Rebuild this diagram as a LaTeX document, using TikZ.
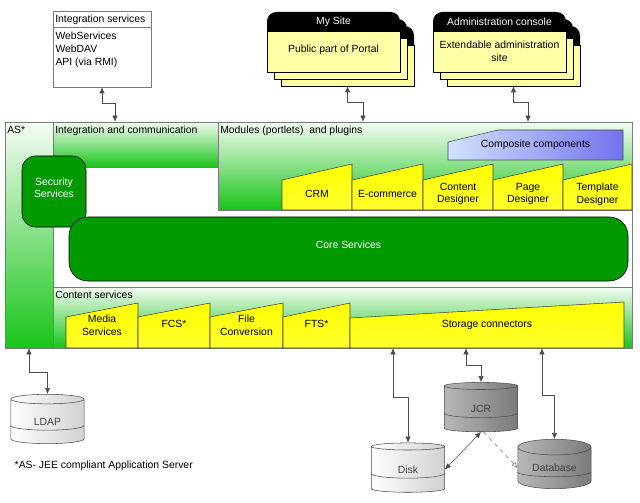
\documentclass[tikz,border=0pt]{standalone}
\usepackage{fontspec}
\setmainfont{Liberation Sans}
\usetikzlibrary{arrows.meta,positioning,shapes.geometric,fit}
\definecolor{Leaf}{HTML}{18C418}
\definecolor{Mint}{HTML}{F4FCF4}
\definecolor{Core}{HTML}{009A00}
\definecolor{Note}{HTML}{FFFFA8}
\definecolor{Sky}{HTML}{D2E2FF}
\definecolor{Iris}{HTML}{7272EC}
\definecolor{Frame}{HTML}{7A7A7A}
\newcommand\diagfont{\fontsize{7.8}{9.6}\selectfont}
\tikzset{
  plain/.style={rectangle, draw=Frame, fill=white, inner sep=0pt},
  layer/.style={rectangle, draw=Frame, top color=Mint, bottom color=Leaf, inner sep=0pt},
  service/.style={rectangle, rounded corners=10pt, draw=black, fill=Core,
    text=white, align=center, inner sep=0pt},
  slab/.style={draw=black!75, top color=yellow, bottom color=yellow!82!white},
  heading/.style={anchor=north west, inner xsep=1.7pt, inner ysep=3pt, align=left},
  cardhead/.style={text=white},
  store/.style={cylinder, shape border rotate=90, aspect=0.35, draw=black!70,
    minimum width=55pt, minimum height=37pt, inner sep=0pt, text=black!75},
  pale/.style={left color=white, right color=black!18},
  dark/.style={left color=black!28, right color=black!52},
  band/.style={draw=black!70},
  link/.style={{Latex[length=4.5pt,width=4pt]}-{Latex[length=4.5pt,width=4pt]}, draw=black!70},
  trail/.style={-{Latex[open,length=4.5pt,width=4pt]}, dashed, draw=black!55}
}
\begin{document}
\begin{tikzpicture}[x=0.75pt, y=-0.75pt, font=\diagfont]
  \useasboundingbox (0,0) rectangle (640,503);
  % portal sites, stacked cards
  \foreach \x in {267,433} {
    \foreach \d in {14,7,0} {
      \filldraw[draw=black, fill=Note] (\x+\d,31+\d) rectangle (\x+\d+133,72+\d);
      \fill[black] (\x+\d,31+\d) {[rounded corners=7pt] -- (\x+\d,12+\d) -- (\x+\d+133,12+\d)}
        -- (\x+\d+133,31+\d) -- cycle;
    }
  }
  \node[fit={(281,26) (414,86)}, inner sep=0pt] (site) {};
  \node[fit={(447,26) (580,86)}, inner sep=0pt] (admin) {};
  \node[cardhead] (sitehead) at (333.5,21.5) {My Site};
  \node (sitetext) at (333.5,50) {Public part of Portal};
  \node[cardhead] (adminhead) at (499.5,21.5) {Administration console};
  \node[align=center] (admintext) at (499.5,51) {Extendable administration\\site};
  % integration services
  \node[plain, fit={(53,11) (151,87)}] (intsvc) {};
  \draw[Frame] (intsvc.west |- 0,27) -- (intsvc.east |- 0,27);
  \node[heading] (intsvctitle) at (intsvc.north west) {Integration services};
  \node[heading] (intsvclist) at (53,28) {WebServices\\WebDAV\\API (via RMI)};
  % application server
  \node[plain, fit={(5,122) (632,348)}] (as) {};
  \node[layer, fit={(5,122) (53,348)}] (ascol) {};
  \node[layer, fit={(53,122) (218,167)}] (integ) {};
  \node[layer, fit={(218,122) (632,210)}] (modules) {};
  \node[layer, fit={(53,287) (632,348)}] (content) {};
  \node[heading] at (as.north west) {AS*};
  \node[heading] at (integ.north west) {Integration and communication};
  \node[heading] at (modules.north west) {Modules (portlets)~ and plugins};
  \node[heading] at (content.north west) {Content services};
  % modules
  \shadedraw[left color=Sky, right color=Iris, draw=black!70]
    (448,142) -- (498,130) -- (623,130) -- (623,160) -- (448,160) -- cycle;
  \node (composite) at (535.5,145) {Composite components};
  \foreach \xa/\xb in {282/352,352/423,423/493,493/563,563/632}
    \shadedraw[slab] (\xa,180) -- (\xb,164) -- (\xb,210) -- (\xa,210) -- cycle;
  \node (crm) at (317,194) {CRM};
  \node (ecom) at (387.5,194) {E-commerce};
  \node[align=center] (cdes) at (458,194) {Content\\Designer};
  \node[align=center] (pdes) at (528,194) {Page\\Designer};
  \node[align=center] (tdes) at (597.5,194) {Template\\Designer};
  % services
  \node[service, fit={(22,156) (86,227)}] (security) {Security\\Services};
  \node[service, rounded corners=14pt, fit={(69,217) (628,281)}] (core) {Core Services};
  % content services
  \foreach \xa/\xb in {66/138,138/210,210/283,283/350}
    \shadedraw[slab] (\xa,317) -- (\xb,303) -- (\xb,348) -- (\xa,348) -- cycle;
  \shadedraw[slab] (350,318) -- (624,302) -- (624,348) -- (350,348) -- cycle;
  \node[align=center] (media) at (102,325) {Media\\Services};
  \node (fcs) at (174,324) {FCS*};
  \node[align=center] (fconv) at (246.5,325) {File\\Conversion};
  \node (fts) at (316.5,324) {FTS*};
  \node (storage) at (487,325) {Storage connectors};
  % storages
  \node[store, pale] (ldap) at (47.5,421.5) {LDAP};
  \node[store, dark] (jcr) at (481,409) {JCR};
  \node[store, pale] (disk) at (408,469.5) {Disk};
  \node[store, dark] (db) at (554.5,468) {Database};
  \foreach \n in {ldap,jcr,disk,db}
    \draw[band] ([yshift=-3pt]\n.west) arc[start angle=180, end angle=360, x radius=27.5pt, y radius=3.5pt];
  \node[anchor=west] (footnote) at (10,466) {*AS- JEE compliant Application Server};
  % connectors
  \draw[link] (intsvc.south) -- ++(0,16) -| (115,0 |- integ.north);
  \draw[link] (site.south) -- ++(0,16) -| (363,0 |- modules.north);
  \draw[link] (admin.south) -- ++(0,16) -| (528,0 |- modules.north);
  \draw[link] (ascol.south) -- ++(0,24) -| (ldap.north);
  \draw[link] (393,0 |- content.south) -- (393,397) -| (disk.north);
  \draw[link] (466,0 |- content.south) -- (466,365) -| (jcr.north);
  \draw[link] (542,0 |- content.south) -- (542,395) -| (db.north);
  \draw[link] (jcr.south) -- (disk.east);
  \draw[trail] ([xshift=2pt]jcr.south) -- (db.west);
\end{tikzpicture}
\end{document}
